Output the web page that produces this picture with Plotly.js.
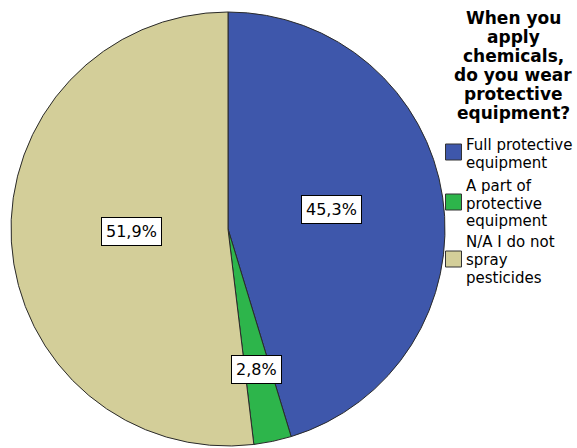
<!DOCTYPE html>
<html>
<head>
<meta charset="utf-8">
<script src="https://cdn.plot.ly/plotly-3.0.1.min.js"></script>
<style>html,body{margin:0;padding:0;background:#fff;}#chart{width:577px;height:448px;}</style>
</head>
<body>
<div id="chart"></div>
<script>
// ---- data ----
const categories = ["Full protective equipment", "A part of protective equipment", "N/A I do not spray pesticides"];
const values = [45.3, 2.8, 51.9];
const legendLines = [["Full protective", "equipment"], ["A part of", "protective", "equipment"], ["N/A I do not", "spray", "pesticides"]];
const titleLines = ["When you", "apply", "chemicals,", "do you wear", "protective", "equipment?"];
const colors = ["#3E57AB", "#2DB54B", "#D3CE99"];

// ---- layout geometry (pixels) ----
const W = 577, H = 448;
const cx = 228, cy = 229, R = 217;
const labelRadius = [0.486, 0.66, 0.444];
const labelAngleShift = [-2.1, 0.3, 2.2]; // degrees
const px = x => x / W;
const py = y => 1 - y / H;

const trace = {
  type: "pie",
  labels: categories,
  values: values,
  sort: false,
  direction: "clockwise",
  rotation: 0,
  textinfo: "none",
  hoverinfo: "label+percent",
  marker: {colors: colors, line: {color: "#2a2a2a", width: 1}},
  domain: {x: [px(cx - R), px(cx + R)], y: [py(cy + R), py(cy - R)]},
  showlegend: false
};

const annotations = [];
const total = values.reduce((a, b) => a + b, 0);
let cum = 0;
values.forEach((v, i) => {
  const mid = (cum + v / 2) / total * 2 * Math.PI + labelAngleShift[i] * Math.PI / 180;
  cum += v;
  const r = labelRadius[i] * R;
  annotations.push({
    xref: "paper", yref: "paper",
    x: px(cx + r * Math.sin(mid)), y: py(cy - r * Math.cos(mid)),
    xanchor: "center", yanchor: "middle",
    text: v.toFixed(1).replace(".", ",") + "%",
    showarrow: false,
    font: {family: "DejaVu Sans", size: 16, color: "#000"},
    bgcolor: "#fff", bordercolor: "#000", borderwidth: 1, borderpad: 4
  });
});

// legend title
const titleCenters = [18, 37, 56, 75, 94, 113];
titleLines.forEach((t, i) => {
  annotations.push({
    xref: "paper", yref: "paper", x: px(513), y: py(titleCenters[i]),
    xanchor: "center", yanchor: "middle", showarrow: false,
    text: "<b>" + t + "</b>",
    font: {family: "DejaVu Sans", size: 17, color: "#000"}
  });
});

// legend items
const lineCenters = [[145, 163], [186, 203.5, 221], [242, 260, 278]];
const squareCenters = [152, 202, 259];
const shapes = [];
legendLines.forEach((lines, i) => {
  lines.forEach((t, j) => {
    annotations.push({
      xref: "paper", yref: "paper", x: px(464), y: py(lineCenters[i][j]),
      xanchor: "left", yanchor: "middle", showarrow: false,
      text: t,
      font: {family: "DejaVu Sans", size: 15, color: "#000"}
    });
  });
  const s = 16;
  shapes.push({
    type: "rect", xref: "paper", yref: "paper",
    x0: px(445.5), x1: px(445.5 + s),
    y0: py(squareCenters[i] + s / 2), y1: py(squareCenters[i] - s / 2),
    fillcolor: colors[i], line: {color: "#333", width: 1}
  });
});

const layout = {
  width: W, height: H,
  margin: {l: 0, r: 0, t: 0, b: 0},
  paper_bgcolor: "#fff",
  showlegend: false,
  annotations: annotations,
  shapes: shapes
};

Plotly.newPlot("chart", [trace], layout, {displayModeBar: false, staticPlot: true});
</script>
</body>
</html>
